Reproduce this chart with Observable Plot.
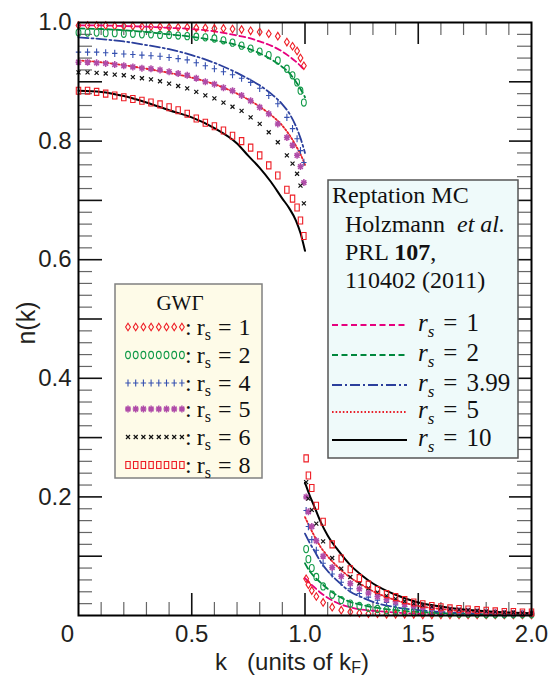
<!DOCTYPE html>
<html><head><meta charset="utf-8">
<script src="https://cdn.jsdelivr.net/npm/d3@7"></script>
<script src="https://cdn.jsdelivr.net/npm/@observablehq/plot@0.6"></script>
<style>body{margin:0;background:#fff}</style>
</head><body><div id="chart"></div>
<script>
// ---- data ----
const kLow = [0,0.04,0.08,0.12,0.16,0.20,0.24,0.28,0.32,0.36,0.40,0.44,0.48,0.52,0.56,0.60,0.64,0.68,0.72,0.76,0.80,0.84,0.88,0.92,0.945,0.965,0.98,0.995];
const kHigh = [1.005,1.015,1.03,1.05,1.08,1.12,1.16,1.20,1.24,1.28,1.32,1.36,1.40,1.44,1.48,1.52,1.56,1.60,1.64,1.68,1.72,1.76,1.80,1.84,1.88,1.92,1.96,2.00];

const gw1Low = [0.995,0.995,0.995,0.995,0.994,0.994,0.994,0.993,0.993,0.993,0.992,0.992,0.992,0.991,0.991,0.990,0.990,0.989,0.988,0.986,0.984,0.981,0.977,0.967,0.960,0.952,0.940,0.927];
const gw2Low = [0.983,0.983,0.983,0.982,0.982,0.981,0.981,0.980,0.980,0.979,0.979,0.978,0.977,0.976,0.975,0.973,0.970,0.966,0.961,0.956,0.951,0.945,0.936,0.922,0.911,0.899,0.885,0.865];
const gw4Low = [0.950,0.950,0.950,0.949,0.948,0.947,0.946,0.945,0.944,0.943,0.941,0.939,0.937,0.932,0.927,0.922,0.917,0.912,0.906,0.899,0.889,0.877,0.863,0.840,0.821,0.804,0.784,0.764];
const gw5Low = [0.933,0.933,0.932,0.931,0.929,0.927,0.925,0.923,0.922,0.920,0.917,0.914,0.911,0.906,0.900,0.896,0.890,0.885,0.877,0.868,0.857,0.846,0.829,0.806,0.793,0.776,0.757,0.730];
const gw6Low = [0.916,0.916,0.915,0.914,0.912,0.911,0.908,0.906,0.904,0.901,0.897,0.893,0.889,0.883,0.877,0.872,0.865,0.858,0.851,0.840,0.829,0.815,0.798,0.776,0.762,0.745,0.725,0.695];
const gw8Low = [0.885,0.885,0.883,0.880,0.877,0.874,0.871,0.868,0.865,0.862,0.857,0.852,0.846,0.838,0.831,0.825,0.818,0.809,0.800,0.789,0.776,0.759,0.742,0.718,0.703,0.688,0.666,0.640];

const gw1High = [0.062,0.052,0.042,0.032,0.022,0.014,0.009,0.006,0.004,0.003,0.003,0.002,0.002,0.002,0.002,0.001,0.001,0.001,0.001,0.001,0.001,0.001,0.001,0.001,0.001,0.001,0.001,0.001];
const gw2High = [0.112,0.095,0.080,0.065,0.049,0.035,0.026,0.020,0.016,0.013,0.011,0.009,0.008,0.007,0.006,0.005,0.005,0.004,0.004,0.003,0.003,0.003,0.002,0.002,0.002,0.002,0.002,0.002];
const gw4High = [0.177,0.150,0.128,0.110,0.088,0.070,0.056,0.045,0.037,0.031,0.026,0.022,0.018,0.015,0.013,0.011,0.009,0.008,0.007,0.006,0.005,0.005,0.004,0.004,0.003,0.003,0.003,0.003];
const gw5High = [0.200,0.175,0.150,0.126,0.100,0.081,0.066,0.054,0.045,0.038,0.032,0.027,0.023,0.019,0.016,0.014,0.012,0.010,0.009,0.008,0.007,0.006,0.005,0.005,0.004,0.004,0.004,0.004];
const gw6High = [0.225,0.197,0.178,0.155,0.125,0.097,0.079,0.065,0.054,0.046,0.039,0.033,0.028,0.024,0.020,0.017,0.015,0.013,0.011,0.010,0.009,0.008,0.007,0.006,0.005,0.005,0.004,0.004];
const gw8High = [0.265,0.236,0.215,0.185,0.158,0.120,0.096,0.078,0.063,0.052,0.043,0.036,0.031,0.026,0.022,0.019,0.016,0.014,0.012,0.011,0.010,0.009,0.008,0.007,0.006,0.006,0.005,0.005];

const qKLow = [0,0.1,0.2,0.3,0.4,0.5,0.6,0.7,0.75,0.8,0.85,0.9,0.93,0.96,0.98,1.0];
const qKHigh = [1.0,1.02,1.04,1.07,1.1,1.15,1.2,1.25,1.3,1.4,1.5,1.6,1.7,1.8,1.9,2.0];
const q1Low = [0.995,0.995,0.994,0.993,0.991,0.989,0.985,0.978,0.974,0.968,0.961,0.951,0.943,0.934,0.927,0.919];
const q1High = [0.063,0.055,0.048,0.038,0.030,0.020,0.014,0.010,0.008,0.005,0.003,0.002,0.002,0.001,0.001,0.001];
const q2Low = [0.990,0.989,0.987,0.984,0.980,0.976,0.970,0.962,0.956,0.948,0.938,0.925,0.915,0.900,0.888,0.874];
const q2High = [0.088,0.075,0.066,0.055,0.045,0.032,0.023,0.018,0.014,0.009,0.006,0.004,0.003,0.002,0.002,0.001];
const q399Low = [0.975,0.972,0.968,0.962,0.955,0.945,0.932,0.915,0.905,0.894,0.880,0.862,0.847,0.825,0.805,0.780];
const q399High = [0.138,0.123,0.110,0.090,0.075,0.056,0.040,0.031,0.023,0.014,0.009,0.006,0.004,0.003,0.003,0.002];
const q5Low = [0.936,0.933,0.928,0.922,0.915,0.907,0.896,0.880,0.870,0.858,0.844,0.826,0.811,0.792,0.778,0.760];
const q5High = [0.166,0.150,0.135,0.115,0.100,0.080,0.064,0.052,0.041,0.026,0.016,0.011,0.007,0.005,0.004,0.003];
const q10Low = [0.885,0.883,0.876,0.865,0.852,0.840,0.822,0.796,0.775,0.755,0.731,0.703,0.687,0.666,0.645,0.615];
const q10High = [0.224,0.203,0.185,0.157,0.135,0.108,0.085,0.068,0.054,0.035,0.022,0.015,0.010,0.007,0.005,0.004];

const xTickValues = [0, 0.5, 1.0, 1.5, 2.0];
const xTickLabels = ["0", "0.5", "1.0", "1.5", "2.0"];
const yTickValues = [0.2, 0.4, 0.6, 0.8, 1.0];
const yTickLabels = ["0.2", "0.4", "0.6", "0.8", "1.0"];

const gwLabels = ["1", "2", "4", "5", "6", "8"];
const qmcLabels = ["1", "2", "3.99", "5", "10"];

// ---- styles ----
const sans = "'Liberation Sans', Arial, Helvetica, sans-serif";
const serif = "'Liberation Serif', 'Times New Roman', serif";

const symDiamond = {draw(c){c.moveTo(0,-3.8);c.lineTo(2.4,0);c.lineTo(0,3.8);c.lineTo(-2.4,0);c.closePath();}};
const symOval = {draw(c){const rx=2.4, ry=3.6, q=0.5523;
  c.moveTo(0,-ry); c.bezierCurveTo(q*rx,-ry, rx,-q*ry, rx,0); c.bezierCurveTo(rx,q*ry, q*rx,ry, 0,ry);
  c.bezierCurveTo(-q*rx,ry, -rx,q*ry, -rx,0); c.bezierCurveTo(-rx,-q*ry, -q*rx,-ry, 0,-ry); c.closePath();}};
const symPlus = {draw(c){c.moveTo(0,-3.6);c.lineTo(0,3.6);c.moveTo(-2.7,0);c.lineTo(2.7,0);}};
const symStar = {draw(c){c.moveTo(0,-3.5);c.lineTo(0,3.5);c.moveTo(-3,0);c.lineTo(3,0);c.moveTo(-2.4,-2.4);c.lineTo(2.4,2.4);c.moveTo(-2.4,2.4);c.lineTo(2.4,-2.4);}};
const symCross = {draw(c){c.moveTo(-2,-2);c.lineTo(2,2);c.moveTo(-2,2);c.lineTo(2,-2);}};
const symRect = {draw(c){c.rect(-2.2,-3.5,4.4,7);}};

const gwSeries = [
  {name:"1", low:gw1Low, high:gw1High, color:"#ee1c24", sym:symDiamond, sw:1.1},
  {name:"2", low:gw2Low, high:gw2High, color:"#119a48", sym:symOval, sw:1.1},
  {name:"4", low:gw4Low, high:gw4High, color:"#3550b0", sym:symPlus, sw:1.1},
  {name:"5", low:gw5Low, high:gw5High, color:"#b04ca8", sym:symStar, sw:1.5},
  {name:"6", low:gw6Low, high:gw6High, color:"#111111", sym:symCross, sw:1.2},
  {name:"8", low:gw8Low, high:gw8High, color:"#ee1c24", sym:symRect, sw:1.1}
];
const qmcSeries = [
  {name:"1", low:q1Low, high:q1High, color:"#e6007e", dash:"6,3.5", sw:1.8},
  {name:"2", low:q2Low, high:q2High, color:"#00873c", dash:"6,3.5", sw:1.8},
  {name:"3.99", low:q399Low, high:q399High, color:"#2b3f9c", dash:"10,3,2,3", sw:1.8},
  {name:"5", low:q5Low, high:q5High, color:"#e8202a", dash:"1.6,2", sw:1.8},
  {name:"10", low:q10Low, high:q10High, color:"#000000", dash:null, sw:2}
];

function gwRows(s){
  return kLow.map((k,i)=>({k, n:s.low[i]})).concat(kHigh.map((k,i)=>({k, n:s.high[i]})));
}
function qRows(s){
  return qKLow.map((k,i)=>({k, n:s.low[i], seg:"low"})).concat(qKHigh.map((k,i)=>({k, n:s.high[i], seg:"high"})));
}

const W = 549, H = 681;
const pxX = 453/2, pxY = 593; // px per data unit (for tick lengths)
const xMinor = d3.range(1,20).filter(i=>i%5!==0).map(i=>i/10);
const xMajor = [0.5,1.0,1.5];
const yMinor = d3.range(1,50).filter(i=>i%5!==0).map(i=>i/50);
const yMajor = d3.range(1,10).map(i=>i/10);

const marks = [];
// ticks (inward)
marks.push(Plot.ruleX(xMinor,{x:d=>d, y1:0, y2:13/pxY, stroke:"#666", strokeWidth:1.2}));
marks.push(Plot.ruleX(xMajor,{x:d=>d, y1:0, y2:22/pxY, stroke:"#111", strokeWidth:1.6}));
marks.push(Plot.ruleX(xMinor,{x:d=>d, y1:1, y2:1-13/pxY, stroke:"#666", strokeWidth:1.2}));
marks.push(Plot.ruleX(xMajor,{x:d=>d, y1:1, y2:1-22/pxY, stroke:"#111", strokeWidth:1.6}));
marks.push(Plot.ruleY(yMinor,{y:d=>d, x1:0, x2:14/pxX, stroke:"#666", strokeWidth:1.2}));
marks.push(Plot.ruleY(yMajor,{y:d=>d, x1:0, x2:24/pxX, stroke:"#111", strokeWidth:1.6}));
marks.push(Plot.ruleY(yMinor,{y:d=>d, x1:2, x2:2-14/pxX, stroke:"#666", strokeWidth:1.2}));
marks.push(Plot.ruleY(yMajor,{y:d=>d, x1:2, x2:2-22/pxX, stroke:"#111", strokeWidth:1.6}));

// QMC lines
for (const s of qmcSeries) {
  marks.push(Plot.line(qRows(s), {x:"k", y:"n", z:"seg", stroke:s.color, strokeWidth:s.sw,
    strokeDasharray:s.dash || undefined, curve:"monotone-x"}));
}
// GWΓ markers
for (const s of gwSeries) {
  marks.push(Plot.dot(gwRows(s), {x:"k", y:"n", symbol:s.sym, r:3, fill:"none", stroke:s.color, strokeWidth:s.sw}));
}
marks.push(Plot.frame({stroke:"#000", strokeWidth:2}));

// tick labels
marks.push(Plot.text(yTickValues, {x:()=>0, y:d=>d, text:(d,i)=>yTickLabels[i], dx:-7, textAnchor:"end",
  fontSize:24, fontFamily:sans, fill:"#231f20"}));
marks.push(Plot.text(xTickValues.slice(1), {x:d=>d, y:()=>0, text:(d,i)=>xTickLabels[i+1], dy:19,
  fontSize:24, fontFamily:sans, fill:"#231f20"}));
marks.push(Plot.text(xTickValues.slice(0,1), {x:d=>d, y:()=>0, text:(d,i)=>xTickLabels[0], dy:19, dx:-11,
  fontSize:24, fontFamily:sans, fill:"#231f20"}));

const svg = Plot.plot({
  width: W, height: H,
  marginLeft: 78, marginRight: 18, marginTop: 22, marginBottom: 66,
  x: {domain:[0,2], axis:null},
  y: {domain:[0,1], axis:null},
  style: {background:"#fff"},
  marks
});
document.getElementById("chart").appendChild(svg);

// ---- overlay: axis titles and legends ----
const g = d3.select(svg).append("g").attr("text-anchor","start");

// y title
g.append("text").attr("transform","translate(35,323) rotate(-90)").attr("text-anchor","middle")
  .attr("font-family",sans).attr("font-size",25).attr("fill","#231f20").text("n(k)");
// x title
const xt = g.append("text").attr("x",292).attr("y",670).attr("text-anchor","middle")
  .attr("font-family",sans).attr("font-size",24).attr("fill","#231f20");
xt.append("tspan").attr("xml:space","preserve").text("k   (units of k");
xt.append("tspan").attr("font-size",16).attr("dy",3).text("F");
xt.append("tspan").attr("dy",-3).text(")");

// left legend (GWΓ)
g.append("rect").attr("x",115).attr("y",284).attr("width",147).attr("height",194)
  .attr("fill","#fefbe8").attr("stroke","#808080").attr("stroke-width",1.5);
g.append("text").attr("x",180).attr("y",310).attr("text-anchor","middle")
  .attr("font-family",serif).attr("font-size",21).attr("fill","#111").text("GWΓ");
const rowY = [327,355,383,409,437,465];
gwSeries.forEach((s,i)=>{
  const cy = rowY[i];
  for (let j=0;j<8;j++){
    const p = d3.path(); s.sym.draw(p);
    g.append("path").attr("d",p.toString()).attr("transform",`translate(${128+j*7.7},${cy})`)
      .attr("fill","none").attr("stroke",s.color).attr("stroke-width",s.sw);
  }
  const t = g.append("text").attr("x",185).attr("y",cy+8).attr("text-anchor","start").attr("font-family",serif)
    .attr("font-size",24).attr("fill","#111");
  t.append("tspan").text(":");
  t.append("tspan").attr("dx",5).text("r");
  t.append("tspan").attr("font-size",16).attr("dy",5).text("s");
  t.append("tspan").attr("dy",-5).attr("dx",7).text("=");
  t.append("tspan").attr("dx",7).text(gwLabels[i]);
});

// right legend (Reptation MC)
g.append("rect").attr("x",328).attr("y",180).attr("width",190).attr("height",278)
  .attr("fill","#effafa").attr("stroke","#555").attr("stroke-width",1.5);
const hdr = (x,y)=>g.append("text").attr("x",x).attr("y",y).attr("text-anchor","start").attr("font-family",serif).attr("font-size",24).attr("fill","#111");
hdr(332,203).text("Reptation MC");
const h2 = hdr(345,232); h2.append("tspan").text("Holzmann"); h2.append("tspan").attr("dx",12).attr("font-style","italic").text("et al.");
const h3 = hdr(345,260); h3.append("tspan").text("PRL "); h3.append("tspan").attr("font-weight","bold").text("107"); h3.append("tspan").text(",");
hdr(345,288).text("110402 (2011)");
const lineY = [325,355,385,412,440];
qmcSeries.forEach((s,i)=>{
  const y = lineY[i];
  const ln = g.append("line").attr("x1",332).attr("x2",407).attr("y1",y).attr("y2",y)
    .attr("stroke",s.color).attr("stroke-width",s.sw);
  if (s.dash) ln.attr("stroke-dasharray",s.dash);
  const t = g.append("text").attr("x",418).attr("y",y+6).attr("text-anchor","start").attr("font-family",serif)
    .attr("font-size",25).attr("fill","#111");
  t.append("tspan").attr("font-style","italic").text("r");
  t.append("tspan").attr("font-style","italic").attr("font-size",17).attr("dy",6).text("s");
  t.append("tspan").attr("dy",-6).attr("dx",9).text("=");
  t.append("tspan").attr("dx",9).text(qmcLabels[i]);
});
</script>
</body></html>
